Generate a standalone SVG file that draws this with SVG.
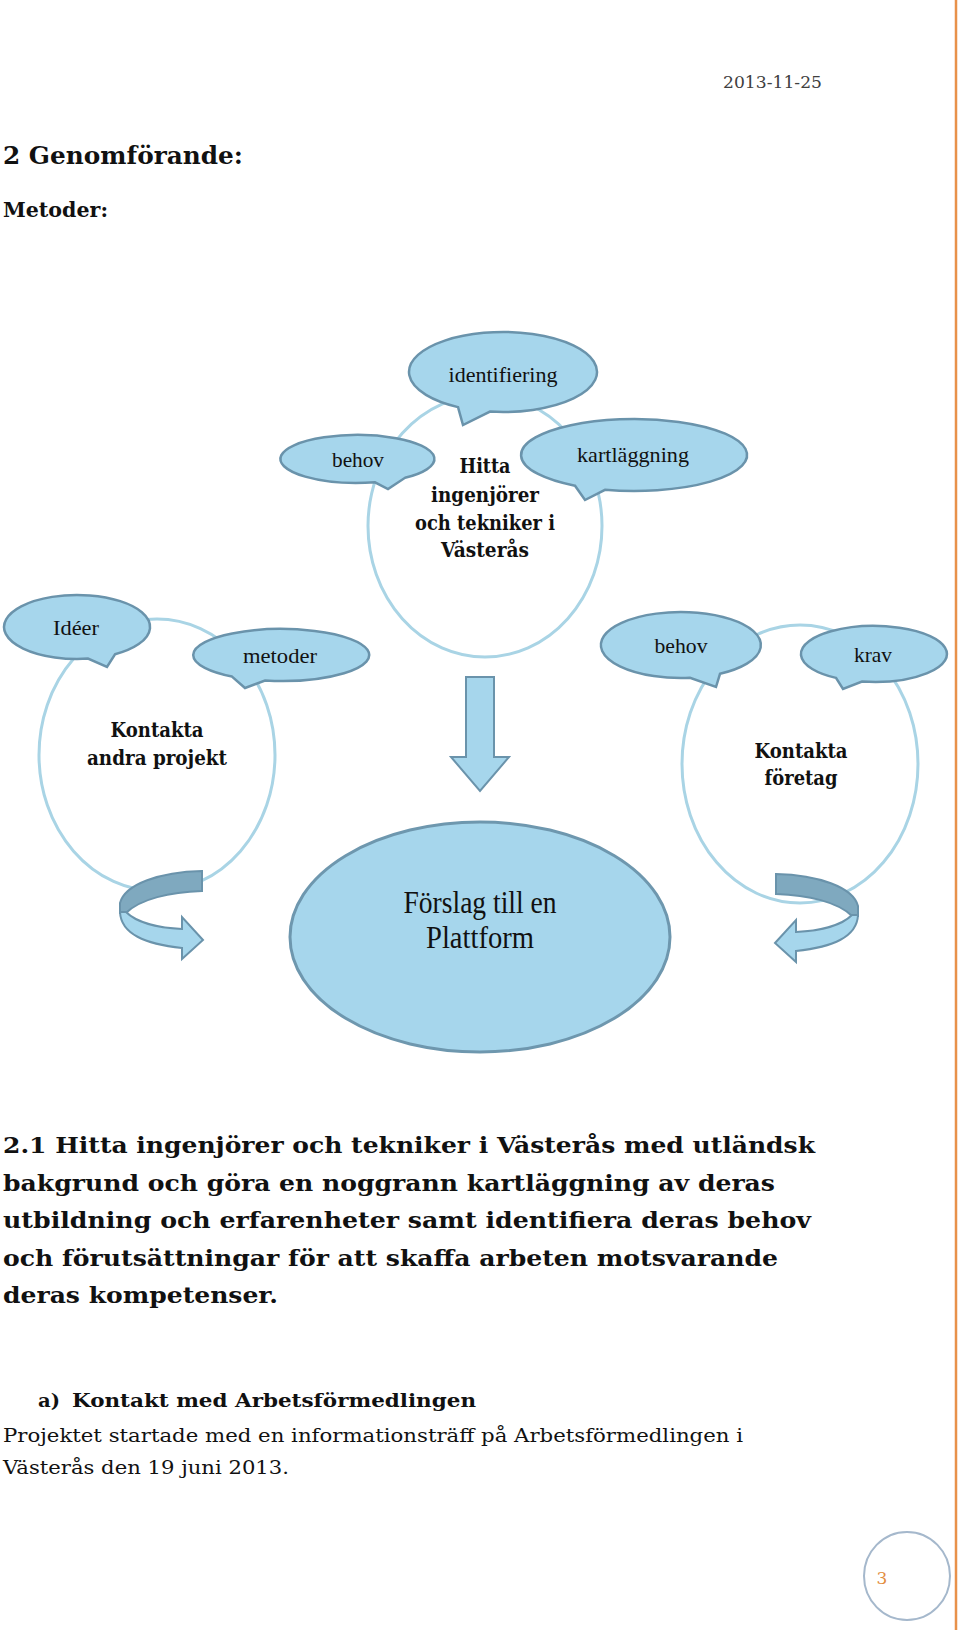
<svg xmlns="http://www.w3.org/2000/svg" width="960" height="1630" viewBox="0 0 960 1630">
<style>
.body{font-family:"DejaVu Serif","Liberation Serif",serif;fill:#111}
.b{font-weight:bold}
.bub{fill:#a6d6ec;stroke:#6a93ab;stroke-width:2.5}
.ring{fill:none;stroke:#a9d4e5;stroke-width:3}
.lbl{font-family:"Liberation Serif","Times New Roman",serif;font-size:22px;fill:#111;text-anchor:middle}
.blbl{font-family:"DejaVu Serif","Liberation Serif",serif;font-size:20px;font-weight:bold;fill:#111;text-anchor:middle}
.dark{fill:#7fa9bf;stroke:#6a93ab;stroke-width:2}
.light{fill:#a6d6ec;stroke:#6a93ab;stroke-width:2}
</style>
<rect width="960" height="1630" fill="#ffffff"/>
<line x1="956" y1="0" x2="956" y2="1630" stroke="#e8914a" stroke-width="2.5"/>

<text class="body" x="723" y="88" font-size="17" style="fill:#404040" textLength="99" lengthAdjust="spacingAndGlyphs">2013-11-25</text>
<text class="body b" x="3" y="164" font-size="25" textLength="240" lengthAdjust="spacingAndGlyphs">2 Genomförande:</text>
<text class="body b" x="3" y="217" font-size="21" textLength="105" lengthAdjust="spacingAndGlyphs">Metoder:</text>

<!-- rings -->
<g id="ring-hitta"><ellipse class="ring" cx="485" cy="526" rx="117" ry="131"/></g>
<g id="ring-andra"><ellipse class="ring" cx="157" cy="755" rx="118" ry="136"/></g>
<g id="ring-foretag"><ellipse class="ring" cx="800" cy="764" rx="118" ry="139"/></g>

<!-- connectors -->
<g id="connectors">
  <polygon class="light" points="466,677 494,677 494,757 509,757 480,791 451,757 466,757"/>
  <g id="curl-left">
    <path class="dark" d="M 202 871 C 160 872 125 884 120 903 L 120 913 L 126 913 C 140 899 170 892 202 891 Z"/>
    <path class="light" d="M 120 912 C 121 934 145 944 182 948 L 182 959 L 203 940 L 182 917 L 182 929 C 160 928 137 923 126 912 Z"/>
  </g>
  <g id="curl-right" transform="translate(978 3) scale(-1 1)">
    <path class="dark" d="M 202 871 C 160 872 125 884 120 903 L 120 913 L 126 913 C 140 899 170 892 202 891 Z"/>
    <path class="light" d="M 120 912 C 121 934 145 944 182 948 L 182 959 L 203 940 L 182 917 L 182 929 C 160 928 137 923 126 912 Z"/>
  </g>
</g>

<!-- node texts in rings -->
<g id="node-hitta">
  <text class="blbl" x="485" y="473" textLength="51" lengthAdjust="spacingAndGlyphs">Hitta</text>
  <text class="blbl" x="485" y="502" textLength="108" lengthAdjust="spacingAndGlyphs">ingenjörer</text>
  <text class="blbl" x="485" y="530" textLength="140" lengthAdjust="spacingAndGlyphs">och tekniker i</text>
  <text class="blbl" x="485" y="557" textLength="88" lengthAdjust="spacingAndGlyphs">Västerås</text>
</g>
<g id="node-andra">
  <text class="blbl" x="157" y="737" textLength="93" lengthAdjust="spacingAndGlyphs">Kontakta</text>
  <text class="blbl" x="157" y="765" textLength="140" lengthAdjust="spacingAndGlyphs">andra projekt</text>
</g>
<g id="node-foretag">
  <text class="blbl" x="801" y="758" textLength="93" lengthAdjust="spacingAndGlyphs">Kontakta</text>
  <text class="blbl" x="801" y="785" textLength="73" lengthAdjust="spacingAndGlyphs">företag</text>
</g>

<!-- bubbles -->
<g id="bubble-identifiering">
  <path class="bub" d="M 458 407.1 A 94 40 0 1 1 490 411.6 L 463 425 Z"/>
  <text class="lbl" x="503" y="382" textLength="109" lengthAdjust="spacingAndGlyphs">identifiering</text>
</g>
<g id="bubble-behov1">
  <path class="bub" d="M 375 482.3 A 77 24 0 1 1 405 477.8 L 388 489 Z"/>
  <text class="lbl" x="358" y="467" textLength="52" lengthAdjust="spacingAndGlyphs">behov</text>
</g>
<g id="bubble-kartlaggning">
  <path class="bub" d="M 575 485.7 A 113 36 0 1 1 605 489.8 L 585 500 Z"/>
  <text class="lbl" x="633" y="462" textLength="112" lengthAdjust="spacingAndGlyphs">kartläggning</text>
</g>
<g id="bubble-ideer">
  <path class="bub" d="M 88 658.6 A 73 32 0 1 1 115 654.3 L 107 667 Z"/>
  <text class="lbl" x="76" y="635" textLength="46" lengthAdjust="spacingAndGlyphs">Idéer</text>
</g>
<g id="bubble-metoder">
  <path class="bub" d="M 232 676.6 A 88 26 0 1 1 265 680.6 L 245 688 Z"/>
  <text class="lbl" x="280" y="663" textLength="74" lengthAdjust="spacingAndGlyphs">metoder</text>
</g>
<g id="bubble-behov2">
  <path class="bub" d="M 690 677.8 A 80 33 0 1 1 720 673.8 L 716 687 Z"/>
  <text class="lbl" x="681" y="653" textLength="53" lengthAdjust="spacingAndGlyphs">behov</text>
</g>
<g id="bubble-krav">
  <path class="bub" d="M 836 677.9 A 73 28 0 1 1 862 681.6 L 843 689 Z"/>
  <text class="lbl" x="873" y="662" textLength="38" lengthAdjust="spacingAndGlyphs">krav</text>
</g>

<g id="node-plattform">
  <ellipse cx="480" cy="937" rx="190" ry="115" fill="#a6d6ec" stroke="#6e97ae" stroke-width="3"/>
  <text class="lbl" x="480" y="913" style="font-size:31px" textLength="153" lengthAdjust="spacingAndGlyphs">Förslag till en</text>
  <text class="lbl" x="480" y="948" style="font-size:31px" textLength="108" lengthAdjust="spacingAndGlyphs">Plattform</text>
</g>

<!-- body text -->
<g class="body b" font-size="23">
  <text x="3" y="1153" textLength="812" lengthAdjust="spacingAndGlyphs">2.1 Hitta ingenjörer och tekniker i Västerås med utländsk</text>
  <text x="3" y="1191" textLength="772" lengthAdjust="spacingAndGlyphs">bakgrund och göra en noggrann kartläggning av deras</text>
  <text x="3" y="1228" textLength="808" lengthAdjust="spacingAndGlyphs">utbildning och erfarenheter samt identifiera deras behov</text>
  <text x="3" y="1266" textLength="775" lengthAdjust="spacingAndGlyphs">och förutsättningar för att skaffa arbeten motsvarande</text>
  <text x="3" y="1303" textLength="275" lengthAdjust="spacingAndGlyphs">deras kompetenser.</text>
</g>
<text class="body b" x="38" y="1407" font-size="19" textLength="22" lengthAdjust="spacingAndGlyphs">a)</text>
<text class="body b" x="72" y="1407" font-size="19" textLength="404" lengthAdjust="spacingAndGlyphs">Kontakt med Arbetsförmedlingen</text>
<text class="body" x="3" y="1442" font-size="18" textLength="740" lengthAdjust="spacingAndGlyphs">Projektet startade med en informationsträff på Arbetsförmedlingen i</text>
<text class="body" x="3" y="1474" font-size="18" textLength="286" lengthAdjust="spacingAndGlyphs">Västerås den 19 juni 2013.</text>

<ellipse cx="907" cy="1576" rx="43" ry="44" fill="#ffffff" stroke="#a5b8cc" stroke-width="2"/>
<text x="882" y="1584" font-family="DejaVu Serif, serif" font-size="17" fill="#e38d3e" text-anchor="middle">3</text>
</svg>
